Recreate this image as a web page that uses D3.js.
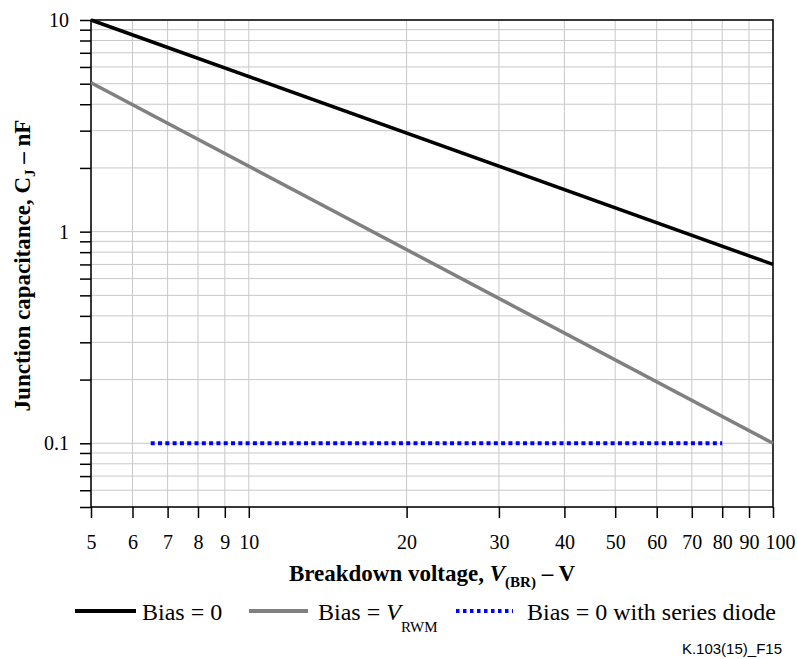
<!DOCTYPE html>
<html><head><meta charset="utf-8">
<script src="https://cdn.jsdelivr.net/npm/d3@7"></script>
<style>body{margin:0;background:#fff} svg{display:block}</style>
</head><body><svg id="c" width="797" height="659"></svg>
<script>
// ---- data ----
const xTickValues = [5, 6, 7, 8, 9, 10, 20, 30, 40, 50, 60, 70, 80, 90, 100];
const yGridValues = [0.05, 0.06, 0.07, 0.08, 0.09, 0.1, 0.2, 0.3, 0.4, 0.5, 0.6, 0.7, 0.8, 0.9,
                     1, 2, 3, 4, 5, 6, 7, 8, 9, 10];
const yLabelValues = [0.1, 1, 10];
const biasZeroV = [5, 100];
const biasZeroC = [10, 0.7];
const biasRwmV = [5, 100];
const biasRwmC = [5.05, 0.1];
const seriesDiodeV = [6.5, 80];
const seriesDiodeC = [0.1, 0.1];

(function () {
// ---- layout ----
const pL = 91, pR = 773, pT = 20, pB = 507;
const serif = '"Liberation Serif","Times New Roman",serif';
const svg = d3.select('#c');

const x = d3.scaleLog().domain([5, 100]).range([pL, pR]);
const y = d3.scaleLog().domain([0.05, 10]).range([pB, pT]);

// grid
const grid = svg.append('g').attr('stroke', '#c8c8c8').attr('stroke-width', 1);
grid.selectAll('line.v').data(xTickValues).join('line').attr('class', 'v')
  .attr('x1', d => x(d)).attr('x2', d => x(d)).attr('y1', pT).attr('y2', pB);
grid.selectAll('line.h').data(yGridValues).join('line').attr('class', 'h')
  .attr('x1', pL).attr('x2', pR).attr('y1', d => y(d)).attr('y2', d => y(d));

// axes
const fmtY = d => yLabelValues.includes(d) ? (d < 1 ? String(d) : d3.format('d')(d)) : '';
const gy = svg.append('g').attr('transform', `translate(${pL},0)`)
  .call(d3.axisLeft(y).tickValues(yGridValues).tickSize(11).tickPadding(11).tickFormat(fmtY));
const gx = svg.append('g').attr('transform', `translate(0,${pB})`)
  .call(d3.axisBottom(x).tickValues(xTickValues).tickSize(11).tickPadding(17).tickFormat(d3.format('d')));
[gx, gy].forEach(g => {
  g.select('.domain').remove();
  g.selectAll('line').attr('stroke', '#000').attr('stroke-width', 1.5);
  g.selectAll('text').style('font-family', serif).style('font-size', '20px').attr('fill', '#000');
});
gx.selectAll('.tick').filter(d => d === 100).select('text').attr('dx', 7);

// frame
svg.append('rect').attr('x', pL).attr('y', pT).attr('width', pR - pL).attr('height', pB - pT)
  .attr('fill', 'none').attr('stroke', '#000').attr('stroke-width', 1.5);

// series
const line = d3.line().x(d => x(d[0])).y(d => y(d[1]));
const plot = svg.append('g');
plot.append('path').datum(d3.zip(biasRwmV, biasRwmC)).attr('d', line)
  .attr('fill', 'none').attr('stroke', '#808080').attr('stroke-width', 3.5);
plot.append('path').datum(d3.zip(biasZeroV, biasZeroC)).attr('d', line)
  .attr('fill', 'none').attr('stroke', '#000').attr('stroke-width', 3.5);
plot.append('path').datum(d3.zip(seriesDiodeV, seriesDiodeC)).attr('d', line)
  .attr('fill', 'none').attr('stroke', '#0000ff').attr('stroke-width', 4).attr('stroke-dasharray', '4,3.3');

// axis titles
const xt = svg.append('text').attr('x', (pL + pR) / 2).attr('y', 581).attr('text-anchor', 'middle')
  .style('font-family', serif).attr('font-size', 23).attr('font-weight', 'bold');
xt.append('tspan').text('Breakdown voltage, ');
xt.append('tspan').attr('font-style', 'italic').text('V');
xt.append('tspan').attr('font-size', 15).attr('dy', 6).text('(BR)');
xt.append('tspan').attr('dy', -6).text(' – V');

const yt = svg.append('text').attr('transform', `translate(30,${(pT + pB) / 2 + 2}) rotate(-90)`)
  .attr('text-anchor', 'middle').style('font-family', serif).attr('font-size', 23).attr('font-weight', 'bold');
yt.append('tspan').text('Junction capacitance, C');
yt.append('tspan').attr('font-size', 15).attr('dy', 5).text('J');
yt.append('tspan').attr('dy', -5).text(' – nF');

// legend
const lg = svg.append('g');
const ly = 611, lb = 620;
const ltext = (xx) => lg.append('text').attr('x', xx).attr('y', lb).style('font-family', serif).attr('font-size', 24).attr('fill', '#000');
lg.append('line').attr('x1', 75).attr('x2', 136).attr('y1', ly).attr('y2', ly).attr('stroke', '#000').attr('stroke-width', 4);
ltext(142).text('Bias = 0');
lg.append('line').attr('x1', 249).attr('x2', 308).attr('y1', ly).attr('y2', ly).attr('stroke', '#808080').attr('stroke-width', 4);
const t2 = ltext(318);
t2.append('tspan').text('Bias = ');
t2.append('tspan').attr('font-style', 'italic').text('V');
t2.append('tspan').attr('font-size', 15).attr('dy', 12).text('RWM');
lg.append('line').attr('x1', 456).attr('x2', 513).attr('y1', ly).attr('y2', ly).attr('stroke', '#0000ff')
  .attr('stroke-width', 4).attr('stroke-dasharray', '3.5,3.5');
ltext(527).text('Bias = 0 with series diode');

svg.append('text').attr('x', 782).attr('y', 654).attr('text-anchor', 'end')
  .style('font-family', '"Liberation Sans Narrow","Arial Narrow","Liberation Sans",sans-serif')
  .attr('font-size', 15).attr('fill', '#000').text('K.103(15)_F15');
})();
</script></body></html>
